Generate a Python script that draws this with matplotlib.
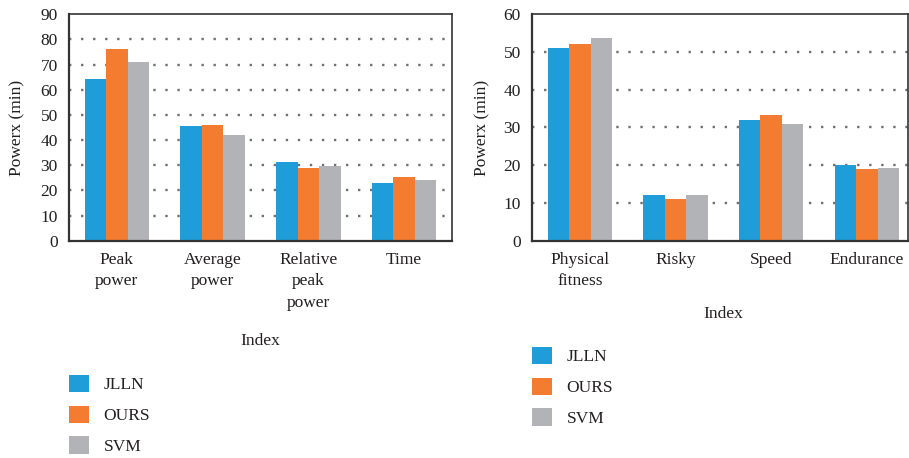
import matplotlib

matplotlib.use("Agg")
import matplotlib.pyplot as plt  # noqa: E402
import numpy as np  # noqa: E402
from matplotlib.patches import Patch  # noqa: E402

SERIES = ["JLLN", "OURS", "SVM"]
COLORS = ["#1E9DD8", "#F47C30", "#B2B3B6"]

LEFT_CATS = ["Peak\npower", "Average\npower", "Relative\npeak\npower", "Time"]
LEFT_JLLN = [64.3, 45.6, 31.3, 22.9]
LEFT_OURS = [76.2, 46.0, 28.9, 25.3]
LEFT_SVM = [71.0, 42.0, 29.7, 24.1]

RIGHT_CATS = ["Physical\nfitness", "Risky", "Speed", "Endurance"]
RIGHT_JLLN = [51.1, 12.1, 32.0, 20.1]
RIGHT_OURS = [52.1, 11.1, 33.3, 19.0]
RIGHT_SVM = [53.7, 12.1, 30.9, 19.3]

FONT = "Liberation Serif"
FS = 12.5

plt.rcParams["font.family"] = FONT


def bar_panel(ax, cats, values, ymax, xmax):
    x = np.arange(len(cats))
    w = 0.225
    for i, (vals, col) in enumerate(zip(values, COLORS)):
        ax.bar(x + (i - 1) * w, vals, w, color=col, zorder=2)

    ax.set_xlim(-0.5, xmax)
    ax.set_ylim(0, ymax)
    ax.set_yticks(np.arange(0, ymax + 1, 10))
    ax.set_xticks(x)
    ax.set_xticklabels(cats, linespacing=1.45)
    ax.tick_params(length=0, labelsize=FS, colors="#231f20")
    ax.tick_params(axis="x", pad=8)
    ax.tick_params(axis="y", pad=8)

    # dotted horizontal guides, behind the bars
    for yv in np.arange(10, ymax, 10):
        ax.axhline(yv, color="#707070", lw=1.7, ls=(0, (1, 4.1)), zorder=1)

    for side in ["left", "bottom"]:
        ax.spines[side].set_linewidth(1.6)
        ax.spines[side].set_color("#333333")
    for side in ["top", "right"]:
        ax.spines[side].set_linewidth(1.2)
        ax.spines[side].set_color("#333333")

    ax.set_ylabel("Powerx (min)", fontsize=FS, color="#231f20")
    ax.set_xlabel("Index", fontsize=FS, color="#231f20")


fig = plt.figure(figsize=(9.09, 4.58), dpi=100)
ax1 = fig.add_axes([0.0759, 0.4745, 0.4213, 0.4943])
ax2 = fig.add_axes([0.5853, 0.4745, 0.4136, 0.4943])

bar_panel(ax1, LEFT_CATS, [LEFT_JLLN, LEFT_OURS, LEFT_SVM], 90, 3.5)
bar_panel(ax2, RIGHT_CATS, [RIGHT_JLLN, RIGHT_OURS, RIGHT_SVM], 60, 3.43)

ax1.yaxis.set_label_coords(-0.115, 0.5)
ax2.yaxis.set_label_coords(-0.112, 0.5)
ax1.xaxis.set_label_coords(0.499, -0.408)
ax2.xaxis.set_label_coords(0.508, -0.288)

handles = [Patch(facecolor=c, edgecolor="none", label=s) for s, c in zip(SERIES, COLORS)]
for lx, ly in [(69, 375), (532, 347)]:
    fig.legend(
        handles=handles,
        loc="upper left",
        bbox_to_anchor=(lx / 909, 1 - ly / 458),
        frameon=False,
        fontsize=FS,
        handlelength=1.15,
        handleheight=1.15,
        handletextpad=0.85,
        labelspacing=0.7,
        borderpad=0,
        borderaxespad=0,
        labelcolor="#231f20",
    )

fig.savefig("out.png", dpi=100)
